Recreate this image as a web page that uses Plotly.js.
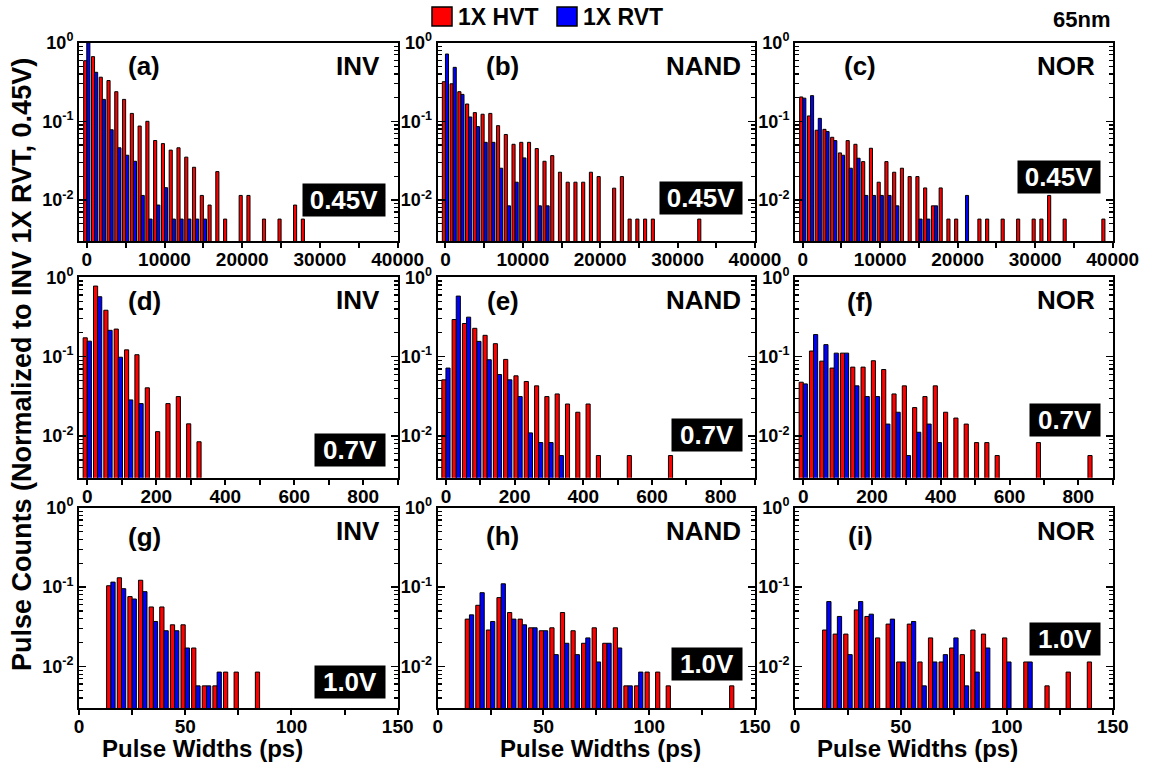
<!DOCTYPE html>
<html>
<head>
<meta charset="utf-8">
<script src="https://cdn.plot.ly/plotly-3.0.1.min.js"></script>
<style>
  html, body { margin: 0; padding: 0; background: #ffffff; }
  #chart { width: 1150px; height: 768px; }
</style>
</head>
<body>
<div id="chart"></div>
<script>
// ---- series ----
const seriesNames = ['1X HVT', '1X RVT'];
const seriesColors = ['#ff0000', '#0000ff'];

// ---- (a) INV, 0.45 V, bin = 1000 ps ----
const aHvtX = [0,1000,2000,3000,4000,5000,6000,7000,8000,9000,10000,11000,12000,13000,14000,15000,16000,17000,18000,20000,21000,23000,25000,27000,28000];
const aHvtY = [0.59,0.665,0.364,0.33,0.238,0.19,0.126,0.087,0.10,0.057,0.052,0.043,0.046,0.035,0.026,0.0114,0.0086,0.0229,0.0057,0.0114,0.0114,0.0057,0.0057,0.0086,0.0057];
const aRvtX = [0,1000,2000,3000,4000,5000,6000,7000,8000,9000,10000,11000,12000,13000,14000,15000];
const aRvtY = [1.0,0.42,0.19,0.078,0.046,0.037,0.031,0.0114,0.0057,0.0086,0.0143,0.0057,0.0057,0.0057,0.0057,0.0057];

// ---- (b) NAND, 0.45 V ----
const bHvtX = [0,1000,2000,3000,4000,5000,6000,7000,8000,9000,10000,11000,12000,13000,14000,15000,16000,17000,18000,19000,20000,22000,23000,24000,25000,26000,27000,33000];
const bHvtY = [0.319,0.30,0.238,0.166,0.129,0.123,0.126,0.088,0.068,0.051,0.054,0.054,0.045,0.031,0.0366,0.0225,0.0168,0.0168,0.0168,0.0225,0.0198,0.0141,0.0198,0.0057,0.0057,0.0057,0.0057,0.0057];
const bRvtX = [0,1000,2000,3000,4000,5000,6000,7000,8000,9000,10000,12000,13000];
const bRvtY = [0.718,0.486,0.22,0.1135,0.0856,0.054,0.054,0.0253,0.0084,0.0168,0.0342,0.0084,0.0084];

// ---- (c) NOR, 0.45 V ----
const cHvtX = [0,1000,2000,3000,4000,5000,6000,7000,8000,9000,10000,11000,12000,13000,14000,15000,16000,17000,18000,19000,20000,23000,24000,26000,28000,30000,31000,32000,34000,39000];
const cHvtY = [0.204,0.117,0.077,0.079,0.0626,0.0396,0.0568,0.051,0.0307,0.0454,0.0168,0.0307,0.0225,0.0253,0.0198,0.0198,0.0142,0.0084,0.0142,0.0057,0.0057,0.0057,0.0057,0.0057,0.0057,0.0057,0.0057,0.0114,0.0057,0.0057];
const cRvtX = [0,1000,2000,3000,4000,5000,6000,7000,8000,9000,10000,11000,12000,15000,16000,17000,21000];
const cRvtY = [0.197,0.212,0.109,0.074,0.0568,0.037,0.0253,0.0339,0.0114,0.0114,0.0114,0.0114,0.0084,0.0057,0.0057,0.0084,0.0114];

// ---- (d) INV, 0.7 V, bin = 30 ps ----
const dHvtX = [0,30,60,90,120,150,180,210,240,270,300,330];
const dHvtY = [0.173,0.776,0.385,0.223,0.122,0.106,0.0406,0.0114,0.0257,0.0315,0.0143,0.0085];
const dRvtX = [0,30,60,90,120,150];
const dRvtY = [0.157,0.569,0.215,0.0986,0.0286,0.0257];

// ---- (e) NAND, 0.7 V ----
const eHvtX = [0,30,60,90,120,150,180,210,240,270,300,330,360,390,420,450,540,660];
const eHvtY = [0.0512,0.294,0.262,0.228,0.186,0.146,0.0925,0.0575,0.0488,0.043,0.0315,0.034,0.0254,0.02,0.0254,0.0057,0.0057,0.0057];
const eRvtX = [0,30,60,90,120,150,180,210,240,270,300,330];
const eRvtY = [0.072,0.58,0.315,0.156,0.0916,0.0597,0.0512,0.0315,0.011,0.0083,0.0083,0.0057];

// ---- (f) NOR, 0.7 V ----
const fHvtX = [0,30,60,90,120,150,180,210,240,270,300,330,360,390,420,450,480,510,540,570,690,840];
const fHvtY = [0.0478,0.118,0.088,0.072,0.111,0.074,0.074,0.089,0.069,0.034,0.043,0.0229,0.0315,0.043,0.02,0.0169,0.0142,0.0083,0.0083,0.0057,0.0083,0.0057];
const fRvtX = [0,30,60,90,120,150,180,210,240,270,300,330,360,390];
const fRvtY = [0.0455,0.19,0.142,0.111,0.111,0.043,0.0315,0.0315,0.0142,0.02,0.0057,0.0112,0.0142,0.0083];

// ---- (g) INV, 1.0 V, bin = 5 ps ----
const gHvtX = [15,20,25,30,35,40,45,50,55,60,65,70,75,85];
const gHvtY = [0.104,0.131,0.0759,0.122,0.0562,0.0562,0.0335,0.0335,0.0171,0.0057,0.0057,0.0085,0.0085,0.0085];
const gRvtX = [15,20,25,30,35,40,45,50,55,60,65];
const gRvtY = [0.1155,0.0955,0.0708,0.0876,0.0369,0.0282,0.0282,0.0171,0.0057,0.0057,0.0085];

// ---- (h) NAND, 1.0 V ----
const hHvtX = [15,20,25,30,35,40,45,50,55,60,65,70,75,80,85,90,95,100,105,110,140];
const hHvtY = [0.0395,0.059,0.0288,0.0737,0.0478,0.0395,0.0307,0.0282,0.0307,0.0478,0.0282,0.0196,0.0307,0.0196,0.0307,0.0057,0.0057,0.0085,0.0085,0.0057,0.0057];
const hRvtX = [15,20,25,30,35,40,45,50,55,60,65,70,75,80,85,90,95];
const hRvtY = [0.0447,0.085,0.0369,0.110,0.0395,0.0335,0.0307,0.0282,0.0141,0.0196,0.0141,0.0229,0.0114,0.0196,0.0171,0.0057,0.0085];

// ---- (i) NOR, 1.0 V ----
const iHvtX = [15,20,25,30,35,40,45,50,55,60,65,70,75,80,85,90,100,110,120,130,140];
const iHvtY = [0.0288,0.0256,0.0256,0.0516,0.0427,0.0229,0.0342,0.0114,0.0342,0.0114,0.0229,0.0114,0.0171,0.0141,0.0288,0.0256,0.0229,0.0114,0.0057,0.0085,0.0114];
const iRvtX = [15,20,25,30,35,45,50,55,60,65,70,75,80,85,90,100,110];
const iRvtY = [0.0657,0.0427,0.0141,0.0657,0.0456,0.0395,0.0114,0.0369,0.0057,0.0114,0.0141,0.0229,0.0057,0.0085,0.0171,0.0114,0.0114];

// ---- panel labels ----
const panelTags = ['(a)','(b)','(c)','(d)','(e)','(f)','(g)','(h)','(i)'];
const gateNames = ['INV','NAND','NOR','INV','NAND','NOR','INV','NAND','NOR'];
const supplyLabels = ['0.45V','0.45V','0.45V','0.7V','0.7V','0.7V','1.0V','1.0V','1.0V'];

// ---- axis ticks per row ----
const rowTickVals = [
  [0,5000,10000,15000,20000,25000,30000,35000,40000],
  [0,100,200,300,400,500,600,700,800,900],
  [0,25,50,75,100,125,150]
];
const rowTickText = [
  ['0','','10000','','20000','','30000','','40000'],
  ['0','','200','','400','','600','','800',''],
  ['0','','50','','100','','150']
];
const yTickVals = [1, 0.1, 0.01];
const yTickText = ['10<sup>0</sup>', '10<sup>-1</sup>', '10<sup>-2</sup>'];
const xTitle = 'Pulse Widths (ps)';
const yTitle = 'Pulse Counts (Normalized to INV 1X RVT, 0.45V)';
const nodeLabel = '65nm';

const hvtSeries = [[aHvtX,aHvtY],[bHvtX,bHvtY],[cHvtX,cHvtY],[dHvtX,dHvtY],[eHvtX,eHvtY],[fHvtX,fHvtY],[gHvtX,gHvtY],[hHvtX,hHvtY],[iHvtX,iHvtY]];
const rvtSeries = [[aRvtX,aRvtY],[bRvtX,bRvtY],[cRvtX,cRvtY],[dRvtX,dRvtY],[eRvtX,eRvtY],[fRvtX,fRvtY],[gRvtX,gRvtY],[hRvtX,hRvtY],[iRvtX,iRvtY]];

// ---- geometry (pixels) ----
const W = 1150, H = 768;
const colPx = [[79, 397.7], [437.7, 755], [795, 1112.7]];
const rowPx = [[42.7, 241], [277.3, 477.7], [507.7, 708]];
const rowRange = [[-1000, 40000], [-24, 900], [0, 150]];
const rowBin = [1000, 30, 5];
const barFrac = 0.4;
const xTitleCenter = [202, 600, 917];

const tickFont = {family: 'Liberation Sans, Arial, sans-serif', size: 19, color: '#000', weight: 700};
const boldFont = (s, c) => ({family: 'Liberation Sans, Arial, sans-serif', size: s, color: c || '#000', weight: 700});

const minorY = [];
[0.001, 0.01, 0.1].forEach(d => { for (let k = 2; k <= 9; k++) { const v = +(k * d).toPrecision(3); if (v >= 0.003) minorY.push(v); } });

const tagY   = [0.88,0.88,0.88,0.88,0.88,0.875,0.855,0.86,0.86];
const gateX  = {INV: 0.95, NAND: 0.963, NOR: 0.95};
const boxY   = [0.205,0.215,0.323,0.137,0.215,0.286,0.129,0.22,0.342];

const traces = [];
const layout = {
  width: W, height: H,
  margin: {l: 0, r: 0, t: 0, b: 0},
  paper_bgcolor: '#ffffff', plot_bgcolor: '#ffffff',
  barmode: 'overlay',
  showlegend: false,
  annotations: [], shapes: []
};

for (let i = 0; i < 9; i++) {
  const n = i + 1, r = Math.floor(i / 3), c = i % 3;
  const w = rowBin[r] * barFrac;
  const xs = 'x' + n, ys = 'y' + n;

  traces.push({
    type: 'bar', name: seriesNames[0], x: hvtSeries[i][0], y: hvtSeries[i][1],
    xaxis: xs, yaxis: ys, width: w, offset: -w,
    marker: {color: seriesColors[0], line: {color: '#000', width: 1}}, hoverinfo: 'x+y'
  });
  traces.push({
    type: 'bar', name: seriesNames[1], x: rvtSeries[i][0], y: rvtSeries[i][1],
    xaxis: xs, yaxis: ys, width: w, offset: 0,
    marker: {color: seriesColors[1], line: {color: '#000', width: 1}}, hoverinfo: 'x+y'
  });

  layout['xaxis' + n] = {
    domain: [colPx[c][0] / W, colPx[c][1] / W], anchor: ys,
    range: rowRange[r], autorange: false,
    tickmode: 'array', tickvals: rowTickVals[r], ticktext: rowTickText[r],
    ticks: 'outside', ticklen: 5, tickwidth: 2, tickcolor: '#000',
    showline: true, linewidth: 2, linecolor: '#000', mirror: true,
    showgrid: false, zeroline: false, tickfont: tickFont, ticklabelstandoff: -5
  };
  // inward ticks along the top frame
  layout['xaxis' + (n + 9)] = {
    overlaying: xs, anchor: ys, side: 'top',
    range: rowRange[r], autorange: false,
    tickmode: 'array', tickvals: rowTickVals[r],
    ticks: 'inside', ticklen: 5, tickwidth: 2, tickcolor: '#000',
    showticklabels: false, showline: false, showgrid: false, zeroline: false
  };
  layout['yaxis' + n] = {
    domain: [1 - rowPx[r][1] / H, 1 - rowPx[r][0] / H], anchor: xs,
    type: 'log', range: [Math.log10(0.003), 0], autorange: false,
    tickmode: 'array', tickvals: yTickVals, ticktext: yTickText,
    ticks: 'inside', ticklen: 7, tickwidth: 1.5, tickcolor: '#000',
    minor: {tickmode: 'array', tickvals: minorY, ticks: 'inside', ticklen: 4, tickwidth: 1.2, tickcolor: '#000'},
    showline: true, linewidth: 2, linecolor: '#000', mirror: 'ticks',
    showgrid: false, zeroline: false, tickfont: Object.assign({}, tickFont, {size: 18})
  };

  layout.annotations.push({
    xref: xs + ' domain', yref: ys + ' domain', x: 0.205, y: tagY[i],
    xanchor: 'center', yanchor: 'middle', text: panelTags[i], showarrow: false, font: boldFont(26)
  });
  layout.annotations.push({
    xref: xs + ' domain', yref: ys + ' domain', x: gateX[gateNames[i]], y: 0.885,
    xanchor: 'right', yanchor: 'middle', text: gateNames[i], showarrow: false, font: boldFont(26)
  });
  layout.annotations.push({
    xref: xs + ' domain', yref: ys + ' domain', x: 0.963, y: boxY[i],
    xanchor: 'right', yanchor: 'middle', text: supplyLabels[i], showarrow: false,
    font: boldFont(26, '#ffffff'), bgcolor: '#000000', borderpad: 0,
    width: supplyLabels[i].length > 4 ? 82 : 70, height: 32, align: 'center', valign: 'middle'
  });
}

// x titles under the bottom row
xTitleCenter.forEach(cx => {
  layout.annotations.push({
    xref: 'paper', yref: 'paper', x: cx / W, y: 1 - 748 / H, xanchor: 'center', yanchor: 'middle',
    text: xTitle, showarrow: false, font: boldFont(24)
  });
});
// common y title
layout.annotations.push({
  xref: 'paper', yref: 'paper', x: 22 / W, y: 1 - 365 / H, xanchor: 'center', yanchor: 'middle',
  text: yTitle, textangle: -90, showarrow: false, font: boldFont(27)
});
// technology node
layout.annotations.push({
  xref: 'paper', yref: 'paper', x: 1112 / W, y: 1 - 19 / H, xanchor: 'right', yanchor: 'middle',
  text: nodeLabel, showarrow: false, font: boldFont(22)
});
// legend swatches and labels
const legendLeft = [432, 557];
seriesNames.forEach((name, k) => {
  layout.shapes.push({
    type: 'rect', xref: 'paper', yref: 'paper',
    x0: legendLeft[k] / W, x1: (legendLeft[k] + 20) / W, y0: 1 - 26 / H, y1: 1 - 7 / H,
    fillcolor: seriesColors[k], line: {color: '#000', width: 1.5}
  });
  layout.annotations.push({
    xref: 'paper', yref: 'paper', x: (legendLeft[k] + 24) / W, y: 1 - 17 / H,
    xanchor: 'left', yanchor: 'middle', text: name, showarrow: false, font: boldFont(23)
  });
});

Plotly.newPlot('chart', traces, layout, {displayModeBar: false, staticPlot: true});
</script>
</body>
</html>
